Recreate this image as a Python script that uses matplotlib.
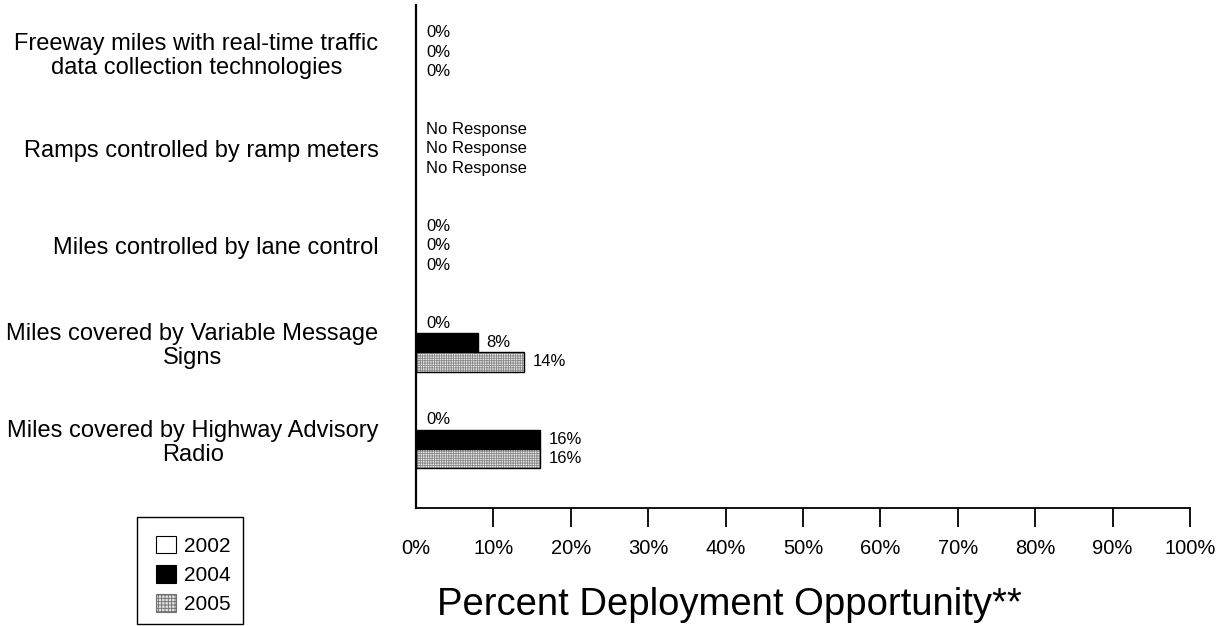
import matplotlib
matplotlib.use("Agg")
import matplotlib.pyplot as plt
from matplotlib.patches import Patch, Rectangle

plt.rcParams['font.family'] = ['Liberation Sans', 'DejaVu Sans']
plt.rcParams['hatch.linewidth'] = 0.6

categories = [
    "Freeway miles with real-time traffic\ndata collection technologies",
    "Ramps controlled by ramp meters",
    "Miles controlled by lane control",
    "Miles covered by Variable Message\nSigns",
    "Miles covered by Highway Advisory\nRadio",
]
years = ["2002", "2004", "2005"]
values_2002 = [0, None, 0, 0, 0]
values_2004 = [0, None, 0, 8, 16]
values_2005 = [0, None, 0, 14, 16]
xticks = [0, 10, 20, 30, 40, 50, 60, 70, 80, 90, 100]
xtick_labels = [f"{t}%" for t in xticks]
xlabel = "Percent Deployment Opportunity**"

fig = plt.figure(figsize=(12.28, 6.26), dpi=100)
ax = fig.add_axes([416/1228, 1-508/626, (1190-416)/1228, (508-5)/626])

bh = 0.2
offsets = [-bh, 0, bh]
series = [values_2002, values_2004, values_2005]
vfs = 12

for s, (vals, off) in enumerate(zip(series, offsets)):
    for i, v in enumerate(vals):
        y = i + off
        if v is None:
            ax.text(1.3, y, "No Response", ha='left', va='center', fontsize=vfs)
            continue
        if v > 0:
            if s == 2:
                ax.barh(y, v, height=bh, color='#ececec', edgecolor='#888888',
                        hatch='+++++++', linewidth=0)
                ax.barh(y, v, height=bh, fill=False, edgecolor='black', linewidth=1)
            elif s == 1:
                ax.barh(y, v, height=bh, color='black', edgecolor='black', linewidth=1)
            else:
                ax.barh(y, v, height=bh, color='white', edgecolor='black', linewidth=1)
            ax.text(v + 1.1, y, f"{v}%", ha='left', va='center', fontsize=vfs)
        else:
            ax.text(1.3, y, f"{v}%", ha='left', va='center', fontsize=vfs)

ax.set_ylim(4.71, -0.486)
ax.set_xlim(0, 100)
ax.set_yticks(range(len(categories)))
ax.set_yticklabels(categories, fontsize=17, multialignment='center', linespacing=1.12)
ax.tick_params(axis='y', length=0, pad=27)
ax.set_xticks(xticks)
ax.set_xticklabels(xtick_labels, fontsize=14.5)
ax.tick_params(axis='x', direction='out', length=14, width=1.3, pad=8)
ax.xaxis.get_major_ticks()[0].tick1line.set_visible(False)
ax.set_xlabel(xlabel, fontsize=27.5)
ax.xaxis.label.set_va('baseline')
ax.xaxis.set_label_coords((729.5-416)/774, (508-615)/503)
for sp in ['top', 'right']:
    ax.spines[sp].set_visible(False)
ax.spines['left'].set_linewidth(1.6)
ax.spines['bottom'].set_linewidth(1.3)

handles = [
    Patch(facecolor='white', edgecolor='black', linewidth=0.8, label='2002'),
    Patch(facecolor='black', edgecolor='black', linewidth=0.8, label='2004'),
    Patch(facecolor='#e0e0e0', edgecolor='#707070', hatch='+++++', linewidth=0.8, label='2005'),
]
leg = fig.legend(handles=handles, loc='upper left',
                 bbox_to_anchor=(156/1228, 1-536/626), fontsize=15,
                 frameon=False,
                 handlelength=0.95, handleheight=0.9, handletextpad=0.4,
                 borderpad=0, labelspacing=0.45, borderaxespad=0)
fig.patches.append(Rectangle((137/1228, 1-624/626), (243-137)/1228, (624-517)/626,
                             transform=fig.transFigure, fill=False,
                             edgecolor='black', linewidth=1))

fig.savefig("out.png", dpi=100)
